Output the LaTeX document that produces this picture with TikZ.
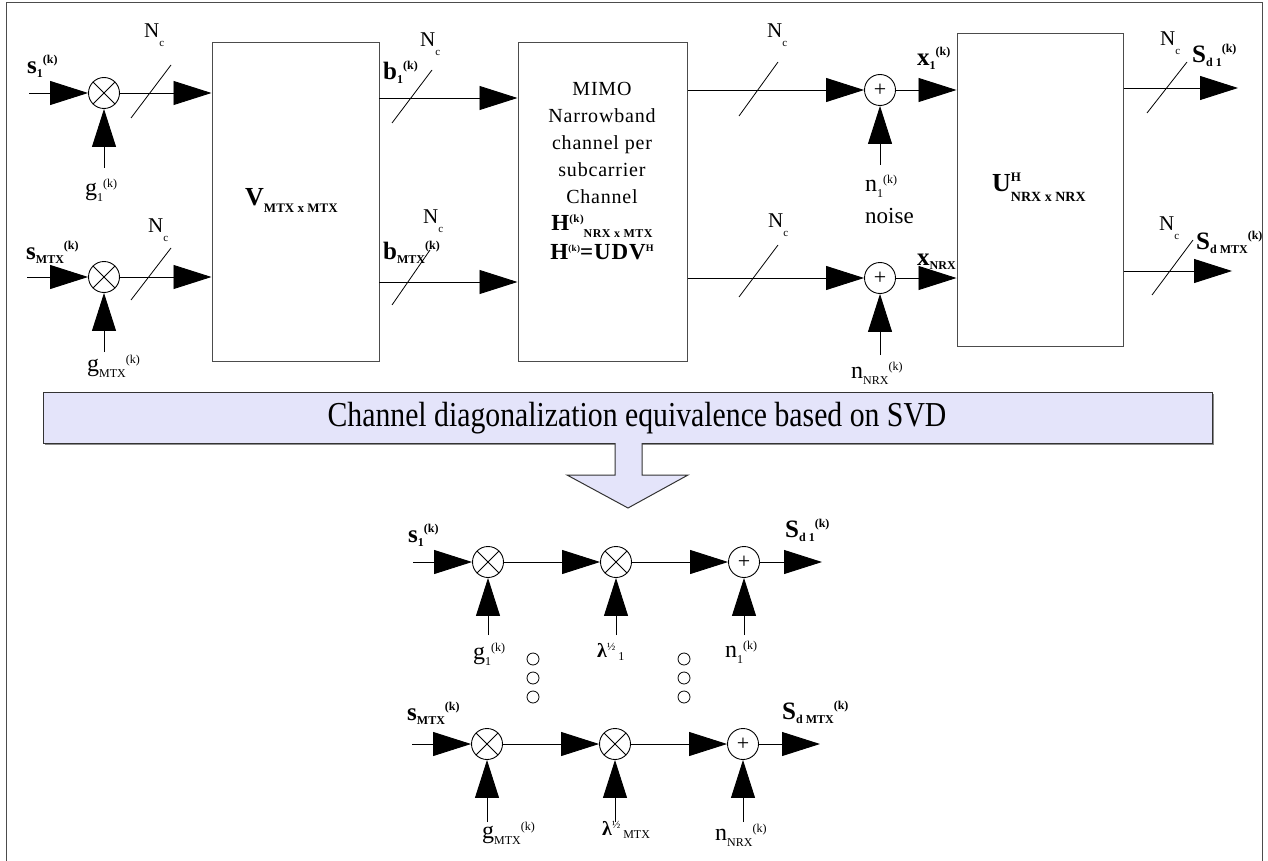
\documentclass[tikz,border=0pt]{standalone}
\usepackage{fontspec}
\usepackage{graphicx}
\setmainfont{Liberation Serif}
\usetikzlibrary{arrows.meta,calc}
\newcommand\fs[1]{\fontsize{#1}{#1}\selectfont}
\newcommand\bsig[3]{{\fs{25}\bfseries #1\raisebox{-4pt}{\fs{12}#2}\raisebox{10pt}{\fs{12}#3}}}
\newcommand\rsig[3]{{\fs{24}#1\raisebox{-6pt}{\fs{12}#2}\raisebox{8pt}{\fs{12}#3}}}
\newcommand\Nc{{\fs{21}N\raisebox{-9pt}{\fs{11}c}}}
\definecolor{lav}{RGB}{228,228,250}
\begin{document}
\begin{tikzpicture}[x=1pt,y=-1pt,
  ln/.style={draw=black, line width=0.9pt},
  arr/.style={ln, -{Triangle[length=38pt,width=24pt]}},
  mult/.style={circle, draw=black, line width=0.9pt, minimum size=31pt, inner sep=0pt,
    path picture={\draw[line width=0.8pt] (path picture bounding box.north west) -- (path picture bounding box.south east)
      (path picture bounding box.north east) -- (path picture bounding box.south west);}},
  adder/.style={circle, draw=black, line width=0.9pt, minimum size=31pt, inner sep=0pt, font=\fs{22}},
  blk/.style={draw=black!70, line width=1pt, rectangle, inner sep=0pt},
  lbl/.style={inner sep=0pt, anchor=west},
  nclbl/.style={inner sep=0pt, anchor=base west},
  slash/.style={draw=black, line width=0.8pt},
  dot/.style={circle, draw=black, line width=0.8pt, minimum width=10pt, minimum height=12pt, inner sep=0pt},
]
\useasboundingbox (0,0) rectangle (1268,861);
% outer frame
\draw[black!70, line width=1pt] (6,861) -- (6,3) -- (1262,3) -- (1262,861);

% ===== top section =====
\node[blk, minimum width=167pt, minimum height=318pt] (V) at (295.5,202) {};
\node[blk, minimum width=169pt, minimum height=318pt] (M) at (602.5,202) {};
\node[blk, minimum width=166pt, minimum height=312pt] (U) at (1040,190) {};

\node[mult] (m1) at (104,93) {};
\node[mult] (m2) at (104,277) {};
\coordinate (i1) at (29,93);
\coordinate (i2) at (27,277);
\coordinate (gb1) at (104,168);
\coordinate (gb2) at (104,352);
\draw[arr] (i1) -- (m1);
\draw[arr] (i2) -- (m2);
\draw[arr] (gb1) -- (m1);
\draw[arr] (gb2) -- (m2);
\draw[arr] (m1) -- (m1 -| V.west);
\draw[arr] (m2) -- (m2 -| V.west);

\coordinate (v1) at (379,98);
\coordinate (v2) at (379,282);
\draw[arr] (v1) -- (v1 -| M.west);
\draw[arr] (v2) -- (v2 -| M.west);

\node[adder] (a1) at (880,90) {+};
\node[adder] (a2) at (880,278) {+};
\coordinate (nb1) at (880,165);
\coordinate (nb2) at (880,355);
\draw[arr] (a1 -| M.east) -- (a1);
\draw[arr] (a2 -| M.east) -- (a2);
\draw[arr] (nb1) -- (a1);
\draw[arr] (nb2) -- (a2);
\draw[arr] (a1) -- (a1 -| U.west);
\draw[arr] (a2) -- (a2 -| U.west);

\coordinate (o1) at (1238,88);
\coordinate (o2) at (1232,271);
\draw[arr] (o1 -| U.east) -- (o1);
\draw[arr] (o2 -| U.east) -- (o2);

% slashes
\draw[slash] (131,118) -- (171,65);
\draw[slash] (131,300) -- (171,248);
\draw[slash] (392,123) -- (432,70);
\draw[slash] (392,305) -- (430,250);
\draw[slash] (739,116) -- (778,62);
\draw[slash] (739,297) -- (778,245);
\draw[slash] (1147,113) -- (1187,62);
\draw[slash] (1152,295) -- (1193,240);

% N_c labels
\node[nclbl] (nc1) at (144,38) {\Nc};
\node[nclbl] (nc2) at (148,233) {\Nc};
\node[nclbl] (nc3) at (420,47) {\Nc};
\node[nclbl] (nc4) at (423,223) {\Nc};
\node[nclbl] (nc5) at (767,38) {\Nc};
\node[nclbl] (nc6) at (768,227) {\Nc};
\node[nclbl] (nc7) at (1160,46) {\Nc};
\node[nclbl] (nc8) at (1159,230) {\Nc};

% signal labels
\node[lbl] (ls1) at (27,66) {\bsig{s}{1}{(k)}};
\node[lbl] (ls2) at (26,252) {\bsig{s}{MTX}{(k)}};
\node[lbl] (lg1) at (85,190) {\rsig{g}{1}{(k)}};
\node[lbl] (lg2) at (87,366) {\rsig{g}{MTX}{(k)}};
\node[lbl] (lb1) at (383,72) {\bsig{b}{1}{(k)}};
\node[lbl] (lb2) at (383,252) {\bsig{b}{MTX}{(k)}};
\node[lbl] (ln1) at (865,186) {\rsig{n}{1}{(k)}};
\node[nclbl] (lnoise) at (865,223) {\fs{23}noise};
\node[lbl] (ln2) at (851,373) {\rsig{n}{NRX}{(k)}};
\node[lbl] (lx1) at (917,58) {\bsig{x}{1}{(k)}};
\node[lbl] (lx2) at (917,262) {\bsig{x}{NRX}{}};
\node[lbl] (lS1) at (1192,55) {\bsig{S}{d 1}{(k)}};
\node[lbl] (lS2) at (1196,242) {\bsig{S}{d MTX}{(k)}};

% block labels
\node[lbl] (lV) at (245,200) {\bfseries\fs{26}V\raisebox{-7pt}{\fs{13}MTX x MTX}};
\node[lbl] (lU) at (992,187) {\bfseries\fs{26}U\rlap{\raisebox{10pt}{\fs{13}H}}\raisebox{-10pt}{\fs{14}NRX x NRX}};
\node[inner sep=0pt, anchor=north, align=center, font=\fs{20}\addfontfeature{LetterSpace=4}] (lM) at (602,82)
  {MIMO\\[7pt] Narrowband\\[7pt] channel per\\[7pt] subcarrier\\[7pt] Channel\\[7pt]
   {\bfseries\fs{23}H\raisebox{8pt}{\fs{11}(k)}\raisebox{-7pt}{\fs{12}NRX x MTX}}\\[6pt]
   {\bfseries\fs{23}H\raisebox{8pt}{\fs{9}(k)}=UDV\raisebox{8pt}{\fs{10}H}}};

% ===== banner =====
\fill[black!45] (45,394) rectangle (1214,445);
\node[draw=black!80, line width=1pt, fill=lav, minimum width=1169pt, minimum height=51pt, inner sep=0pt] (ban) at (627.5,417.5) {};
\node[inner sep=0pt, anchor=base] (bantxt) at (637,426) {\fs{35}\scalebox{0.85}[1]{Channel diagonalization equivalence based on SVD}};
\fill[lav] (615,441) -- (615,475) -- (567,475) -- (628,508) -- (688,475) -- (642,475) -- (642,441) -- cycle;
\draw[black!80, line width=1pt, line join=miter] (615,443) -- (615,475) -- (567,475) -- (628,508) -- (688,475) -- (642,475) -- (642,443);

% ===== bottom section =====
\node[mult] (b11) at (488,562) {};
\node[mult] (b12) at (616,562) {};
\node[adder] (b13) at (744,562) {+};
\node[mult] (b21) at (487,744) {};
\node[mult] (b22) at (615,744) {};
\node[adder] (b23) at (743,744) {+};
\coordinate (bi1) at (413,562);
\coordinate (bo1) at (822,562);
\coordinate (bi2) at (412,744);
\coordinate (bo2) at (820,744);
\coordinate (bv11) at (488,635);
\coordinate (bv12) at (616,635);
\coordinate (bv13) at (744,635);
\coordinate (bv21) at (487,822);
\coordinate (bv22) at (615,822);
\coordinate (bv23) at (743,822);
\draw[arr] (bi1) -- (b11);
\draw[arr] (b11) -- (b12);
\draw[arr] (b12) -- (b13);
\draw[arr] (b13) -- (bo1);
\draw[arr] (bi2) -- (b21);
\draw[arr] (b21) -- (b22);
\draw[arr] (b22) -- (b23);
\draw[arr] (b23) -- (bo2);
\draw[arr] (bv11) -- (b11);
\draw[arr] (bv12) -- (b12);
\draw[arr] (bv13) -- (b13);
\draw[arr] (bv21) -- (b21);
\draw[arr] (bv22) -- (b22);
\draw[arr] (bv23) -- (b23);

\node[dot] (d1) at (533,659) {};
\node[dot] (d2) at (533,678) {};
\node[dot] (d3) at (533,697) {};
\node[dot] (d4) at (684,659) {};
\node[dot] (d5) at (684,678) {};
\node[dot] (d6) at (684,697) {};

\node[lbl] (bls1) at (408,535) {\bsig{s}{1}{(k)}};
\node[lbl] (blS1) at (785,530) {\bsig{S}{d 1}{(k)}};
\node[lbl] (bls2) at (407,713) {\bsig{s}{MTX}{(k)}};
\node[lbl] (blS2) at (782,712) {\bsig{S}{d MTX}{(k)}};
\node[lbl] (blg1) at (473,654) {\rsig{g}{1}{(k)}};
\node[lbl] (bln1) at (725,652) {\rsig{n}{1}{(k)}};
\node[lbl] (blg2) at (482,833) {\rsig{g}{MTX}{(k)}};
\node[lbl] (bln2) at (715,835) {\rsig{n}{NRX}{(k)}};
\node[lbl] (bll1) at (597,652) {{\fs{20}\bfseries λ}\raisebox{7pt}{\fs{11}½}\raisebox{-3pt}{\fs{12}\ 1}};
\node[lbl] (bll2) at (602,830) {{\fs{20}\bfseries λ}\raisebox{7pt}{\fs{11}½}\raisebox{-3pt}{\fs{12}\ MTX}};
\end{tikzpicture}
\end{document}
